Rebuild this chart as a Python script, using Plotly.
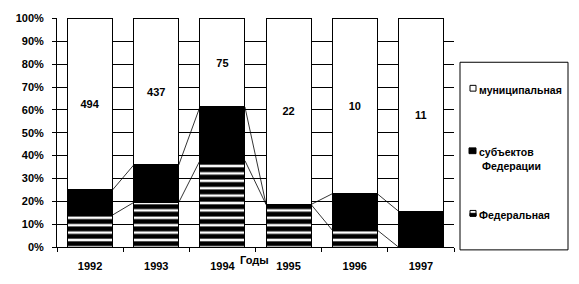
import plotly.graph_objects as go

years = ["1992", "1993", "1994", "1995", "1996", "1997"]
federal = [14.0, 19.5, 37.8, 18.6, 7.4, 0.0]
subjects = [11.0, 16.4, 23.5, 0.0, 15.9, 15.7]
municipal = [100 - f - s for f, s in zip(federal, subjects)]
counts = ["494", "437", "75", "22", "10", "11"]
y_ticks = list(range(0, 101, 10))
y_ticktext = [f"{v}%" for v in y_ticks]
legend_names = ["муниципальная", "субъектов<br> Федерации", "Федеральная"]

BW = 0.68
FONT = dict(family="Arial, Liberation Sans, sans-serif", size=11, color="black", weight="bold")
LFONT = dict(family="Arial, Liberation Sans, sans-serif", size=10.5, color="black", weight="bold")
x = list(range(len(years)))

fig = go.Figure()
fig.add_bar(x=x, y=federal, width=BW, name="Федеральная",
            marker=dict(color="white", line=dict(color="black", width=1),
                        pattern=dict(shape="-", fgcolor="black", bgcolor="white",
                                     fgopacity=1, fillmode="replace",
                                     size=7.4, solidity=0.66)),
            hoverinfo="skip")
fig.add_bar(x=x, y=subjects, width=BW, name="субъектов Федерации",
            marker=dict(color="black", line=dict(color="black", width=1)),
            hoverinfo="skip")
fig.add_bar(x=x, y=municipal, width=BW, name="муниципальная",
            marker=dict(color="white", line=dict(color="black", width=1)),
            text=counts, textposition="inside", insidetextanchor="middle",
            textfont=FONT, textangle=0, hoverinfo="skip")

# series lines between stacked bars
cum1 = federal
cum2 = [f + s for f, s in zip(federal, subjects)]
lx, ly = [], []
for cum in (cum1, cum2):
    for i in range(len(years) - 1):
        lx += [i + BW / 2, i + 1 - BW / 2, None]
        ly += [cum[i], cum[i + 1], None]
fig.add_scatter(x=lx, y=ly, mode="lines", line=dict(color="black", width=0.8),
                hoverinfo="skip", showlegend=False)

# manual legend
L, R, B, T = 57, 454, 253, 15
pw, ph = R - L, B - T
def px(v): return (v - L) / pw
def py(v): return (B - v) / ph

shapes = [dict(type="rect", xref="paper", yref="paper", x0=px(460), x1=px(568),
               y0=py(256), y1=py(61), line=dict(color="black", width=1),
               fillcolor="white")]
for idx, yy in enumerate([88, 153, 218]):
    if idx == 0:
        shapes.append(dict(type="rect", xref="paper", yref="paper", x0=px(470), x1=px(476),
                           y0=py(yy + 3), y1=py(yy - 3), line=dict(color="black", width=1),
                           fillcolor="white"))
    elif idx == 1:
        shapes.append(dict(type="rect", xref="paper", yref="paper", x0=px(469), x1=px(476),
                           y0=py(yy + 3), y1=py(yy - 3), line=dict(color="black", width=1),
                           fillcolor="black"))
    else:
        shapes.append(dict(type="rect", xref="paper", yref="paper", x0=px(470), x1=px(476),
                           y0=py(yy + 3), y1=py(yy - 3), line=dict(color="black", width=1),
                           fillcolor="white"))
        shapes.append(dict(type="rect", xref="paper", yref="paper", x0=px(470), x1=px(476),
                           y0=py(yy + 3), y1=py(yy), line=dict(color="black", width=1),
                           fillcolor="black"))

annotations = []
for name, yy in zip(legend_names, [88, 153, 218]):
    annotations.append(dict(xref="paper", yref="paper", x=px(477), y=py(yy - 7),
                            xanchor="left", yanchor="top", align="left",
                            text=name, showarrow=False, font=LFONT))
annotations.append(dict(xref="paper", yref="paper", x=px(254), y=py(267),
                        xanchor="center", yanchor="middle", text="Годы",
                        showarrow=False, font=FONT))

fig.update_layout(
    width=579, height=284,
    margin=dict(l=L, r=579 - R, t=T, b=284 - B),
    barmode="stack", bargap=0.32,
    plot_bgcolor="white", paper_bgcolor="white",
    showlegend=False, font=FONT,
    shapes=shapes, annotations=annotations,
    uniformtext=dict(mode=False),
)
fig.update_xaxes(range=[-0.5, len(years) - 0.5], tickvals=x, ticktext=years,
                 ticks="", showgrid=False, showline=True, linecolor="black", linewidth=1,
                 zeroline=False, ticklabelstandoff=9, tickfont=FONT,
                 minor=dict(tickvals=[i - 0.5 for i in range(len(years) + 1)],
                            ticks="outside", ticklen=4, tickcolor="black", tickwidth=1,
                            showgrid=False))
fig.update_yaxes(range=[0, 100.2], tickvals=y_ticks, ticktext=y_ticktext,
                 ticks="outside", ticklen=4, tickcolor="black",
                 showgrid=True, gridcolor="black", gridwidth=1,
                 showline=True, linecolor="black", linewidth=1, zeroline=False,
                 ticklabelstandoff=6, tickfont=FONT)

fig.write_html("out.html")
